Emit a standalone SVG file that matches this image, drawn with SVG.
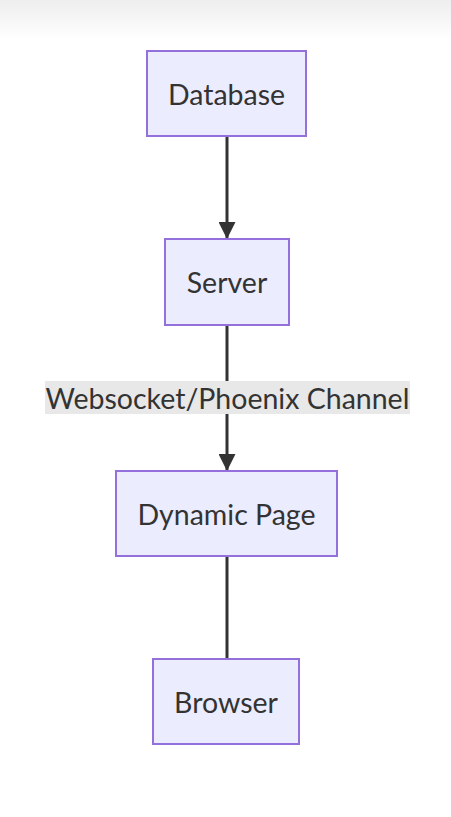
<svg xmlns="http://www.w3.org/2000/svg" width="451" height="817" viewBox="0 0 451 817">
<defs>
<linearGradient id="topfade" x1="0" y1="0" x2="0" y2="1">
<stop offset="0" stop-color="#eeeeee"/>
<stop offset="1" stop-color="#ffffff"/>
</linearGradient>
<marker id="arrow" viewBox="0 0 10 10" refX="10" refY="5" markerUnits="userSpaceOnUse" markerWidth="17" markerHeight="17" orient="auto">
<path d="M0,0 L10,5 L0,10 z" fill="#333333"/>
</marker>
<style>
.node rect{fill:#ECECFF;stroke:#9370DB;stroke-width:2}
.node text{font-family:Lato,"Open Sans","DejaVu Sans",sans-serif;font-size:28.5px;fill:#333333;text-anchor:middle;dominant-baseline:central}
.edge{stroke:#333333;stroke-width:3;fill:none}
.elabel rect{fill:#e8e8e8}
.elabel text{font-family:Lato,"Open Sans","DejaVu Sans",sans-serif;font-size:28.5px;fill:#333333;text-anchor:middle;dominant-baseline:central}
</style>
</defs>
<rect x="0" y="0" width="451" height="817" fill="#ffffff"/>
<rect x="0" y="0" width="451" height="40" fill="url(#topfade)"/>
<g id="connectors">
<line class="edge" x1="227" y1="137" x2="227" y2="239" marker-end="url(#arrow)"/>
<line class="edge" x1="227" y1="325" x2="227" y2="471" marker-end="url(#arrow)"/>
<line class="edge" x1="227" y1="556" x2="227" y2="659"/>
<g class="elabel" id="label-websocket">
<rect x="45" y="381" width="365" height="33"/>
<text x="227.5" y="397.5">Websocket/Phoenix Channel</text>
</g>
</g>
<g id="database" class="node">
<rect x="147" y="51" width="159" height="85"/>
<text x="226.5" y="93.5">Database</text>
</g>
<g id="server" class="node">
<rect x="165" y="239" width="124" height="86"/>
<text x="227" y="282">Server</text>
</g>
<g id="dynamic-page" class="node">
<rect x="116" y="471" width="221" height="85"/>
<text x="226.5" y="513.5">Dynamic Page</text>
</g>
<g id="browser" class="node">
<rect x="153" y="659" width="146" height="85"/>
<text x="226" y="701.5">Browser</text>
</g>
</svg>
